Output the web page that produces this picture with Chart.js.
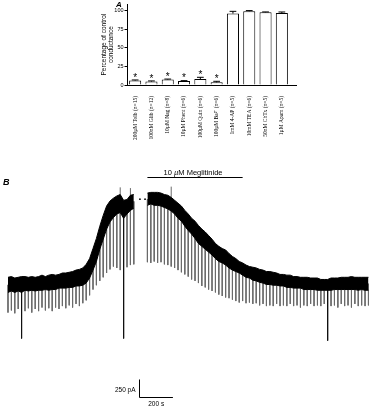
<!DOCTYPE html>
<html>
<head>
<meta charset="utf-8">
<script src="https://cdn.jsdelivr.net/npm/chart.js@4.4.1/dist/chart.umd.min.js"></script>
<style>
  html, body { margin: 0; padding: 0; background: #fff; }
  body { width: 371px; height: 409px; position: relative; overflow: hidden; font-family: 'Liberation Sans', Arial, sans-serif; }
  canvas { position: absolute; }
  #chart-a { left: 96px; top: 0; }
  #chart-b { left: 0; top: 160px; }
  .panel-label { position: absolute; font-weight: bold; font-style: italic; line-height: 1; color: #000; }
</style>
</head>
<body>
<canvas id="chart-a" width="214" height="155"></canvas>
<canvas id="chart-b" width="371" height="249"></canvas>
<div class="panel-label" style="left:116px;top:1px;font-size:8px">A</div>
<div class="panel-label" style="left:3px;top:178px;font-size:9px">B</div>
<script>
// ── Panel A data ───────────────────────────────────────
const categories = [
  '200µM Tolb (n=15)', '100nM Glib (n=12)', '10µM Nag (n=8)', '10µM Phent (n=6)',
  '100µM Quin (n=6)', '100µM Ba²⁺ (n=6)', '1mM 4-AP (n=5)', '10mM TEA (n=6)',
  '50nM ChTx (n=5)', '1µM Apam (n=5)',
];
const conductance = [6.0, 4.6, 7.3, 5.4, 8.1, 3.6, 96.5, 99.6, 98.2, 97.3];
const sem         = [0.8, 0.9, 0.7, 0.5, 2.3, 1.4, 3.0, 0.9, 0.5, 1.3];
const significant = [true, true, true, true, true, true, false, false, false, false];
const yTicks = [0, 25, 50, 75, 100];

// ── Panel B data (pA, one sample every 20 s) ───────────
const sampleStep = 20;
const traceTop = [
  180, 190, 170, 180, 190, 190, 180, 190, 180, 190,
  210, 190, 210, 220, 210, 220, 240, 240, 250, 260,
  280, 290, 310, 360, 440, 580, 720, 890, 1040, 1170,
  1240, 1280, 1310, 1330, 1250, 1260, 1320, 1330,
  null, null, null,
  1350, 1360, 1360, 1360, 1350, 1330, 1320, 1290, 1250,
  1210, 1170, 1110, 1060, 1000, 960, 900, 850, 810, 760,
  710, 650, 610, 580, 560, 510, 470, 440, 400, 380,
  350, 330, 320, 310, 290, 280, 260, 260, 250, 240,
  220, 220, 210, 210, 190, 190, 180, 180, 180, 170,
  170, 170, 150, 150, 150, 170, 170, 170, 180, 180,
  180, 190, 180, 180, 180, 180, 180,
];
const traceBottom = [
  -30, -10, -30, -10, -30, 0, -10, 0, -10, 0,
  0, 10, 0, 10, 10, 30, 30, 30, 40, 40,
  60, 60, 70, 100, 170, 280, 400, 570, 710, 850,
  950, 1010, 1060, 1080, 1000, 1060, 1110, 1140,
  null, null, null,
  1180, 1200, 1180, 1180, 1170, 1150, 1130, 1100, 1060,
  1000, 960, 890, 830, 780, 720, 650, 610, 570, 530,
  490, 440, 400, 380, 350, 310, 280, 260, 240, 210,
  180, 170, 140, 130, 110, 100, 80, 80, 70, 70,
  60, 60, 40, 40, 30, 30, 30, 10, 10, 10,
  10, 0, 0, 0, 0, 0, 10, 10, 10, 10,
  10, 10, 10, 0, 10, 0, 0,
];
const spikeDepth = [
  -310, -280, -320, -260, -670, -290, -250, -310, -260, -290,
  -240, -280, -250, -290, -240, -260, -220, -250, -210, -240,
  -190, -220, -180, -140, -70, 10, 70, 130, 180, 240,
  290, 330, 310, 280, -670, 320, 350, 360,
  null, null, null,
  390, 380, 400, 380, 390, 360, 350, 330, 310,
  280, 250, 220, 190, 150, 130, 100, 60, 40, 10,
  -10, -30, -60, -80, -100, -110, -130, -150, -170, -150,
  -180, -170, -190, -180, -210, -190, -220, -210, -220, -190,
  -220, -210, -220, -190, -220, -210, -240, -210, -220, -190,
  -220, -210, -220, -190, -700, -220, -210, -240, -190, -220,
  -210, -240, -190, -220, -210, -220, -210,
];
const upSpikeTimes = [660, 720, 960];
const upSpikePeaks = [1430, 1420, 1440];
const gapDotTimes = [776, 806];
const gapDotLevel = 1265;

const drugOn = 820;
const drugOff = 1380;
const drugBarLevel = 1570;
const drugLabel = ['10 ', 'µ', 'M Meglitinide'];

const scaleBarTime = 770;
const scaleBarLevel = -1490;
const scaleBarPA = 250;
const scaleBarS = 200;

Chart.defaults.font.family = "'Liberation Sans', Arial, sans-serif";
Chart.defaults.color = '#000';

// ── Panel A: bar chart ─────────────────────────────────
const errorBars = {
  id: 'errorBars',
  afterDatasetsDraw(chart) {
    const { ctx, chartArea, scales: { y } } = chart;
    const meta = chart.getDatasetMeta(0);
    ctx.save();
    ctx.strokeStyle = '#000';
    ctx.fillStyle = '#000';
    ctx.lineWidth = 1;
    ctx.font = "10px 'Liberation Sans', Arial, sans-serif";
    ctx.textAlign = 'center';
    ctx.textBaseline = 'alphabetic';
    meta.data.forEach((bar, i) => {
      const top = y.getPixelForValue(conductance[i] + sem[i]);
      const half = bar.width * 0.28;
      ctx.beginPath();
      ctx.moveTo(bar.x, bar.y);
      ctx.lineTo(bar.x, top);
      ctx.moveTo(bar.x - half, top);
      ctx.lineTo(bar.x + half, top);
      ctx.stroke();
      if (significant[i]) ctx.fillText('*', bar.x, top + 0.8);
    });
    // axis line runs a little past the last bar
    const yb = Math.round(chartArea.bottom + 0.5) - 0.5;
    ctx.beginPath();
    ctx.moveTo(chartArea.right - 1, yb);
    ctx.lineTo(chartArea.right + 7, yb);
    ctx.stroke();
    ctx.restore();
  },
};

new Chart(document.getElementById('chart-a'), {
  type: 'bar',
  data: {
    labels: categories,
    datasets: [{
      data: conductance,
      backgroundColor: '#fff',
      borderColor: '#000',
      borderWidth: 1,
      barPercentage: 0.74,
      categoryPercentage: 1,
    }],
  },
  options: {
    responsive: false,
    animation: false,
    devicePixelRatio: 1,
    layout: { autoPadding: false, padding: { top: 4, right: 20, left: 0, bottom: 0 } },
    plugins: { legend: { display: false }, tooltip: { enabled: false } },
    scales: {
      x: {
        afterFit: s => { s.height = 70; },
        grid: { display: false },
        border: { display: true, color: '#000', width: 1 },
        ticks: {
          minRotation: 90, maxRotation: 90, autoSkip: false, padding: 3,
          font: { family: "'Liberation Serif', 'Times New Roman', serif", size: 5.5 },
        },
      },
      y: {
        min: 0,
        max: 109,
        afterFit: s => { s.width = 31; },
        afterBuildTicks: s => { s.ticks = yTicks.map(v => ({ value: v })); },
        ticks: { font: { size: 5.5 }, padding: 1 },
        grid: { display: true, drawOnChartArea: false, drawTicks: true, tickLength: 2.5, color: '#000' },
        border: { display: true, color: '#000', width: 1 },
        title: {
          display: true,
          text: ['Percentage of control', 'conductance'],
          font: { size: 6.5 },
          padding: { top: 4, bottom: 0 },
        },
      },
    },
  },
  plugins: [errorBars],
});

// ── Panel B: current trace ─────────────────────────────
const times = traceTop.map((_, i) => i * sampleStep);
const points = arr => arr.map((v, i) => ({ x: times[i], y: v }));

const spikeSegments = [];
spikeDepth.forEach((v, i) => {
  if (v === null) return;
  const mid = (traceTop[i] + traceBottom[i]) / 2;
  spikeSegments.push({ x: times[i], y: mid }, { x: times[i], y: v }, { x: times[i], y: null });
});

const upSegments = [];
upSpikeTimes.forEach((t, i) => {
  const k = Math.round(t / sampleStep);
  upSegments.push({ x: t, y: (traceTop[k] + traceBottom[k]) / 2 }, { x: t, y: upSpikePeaks[i] }, { x: t, y: null });
});

const traceAnnotations = {
  id: 'traceAnnotations',
  afterDraw(chart) {
    const { ctx, scales: { x, y } } = chart;
    ctx.save();
    ctx.strokeStyle = '#000';
    ctx.fillStyle = '#000';
    ctx.lineWidth = 1;

    // drug application bar + label
    const x0 = x.getPixelForValue(drugOn);
    const x1 = x.getPixelForValue(drugOff);
    const yb = Math.round(y.getPixelForValue(drugBarLevel)) + 0.5;
    ctx.beginPath();
    ctx.moveTo(x0, yb);
    ctx.lineTo(x1, yb);
    ctx.stroke();

    const plain = "7.5px 'Liberation Sans', Arial, sans-serif";
    const italic = "italic 7.5px 'Liberation Sans', Arial, sans-serif";
    const fonts = [plain, italic, plain];
    const widths = drugLabel.map((s, i) => { ctx.font = fonts[i]; return ctx.measureText(s).width; });
    let lx = (x0 + x1) / 2 - 2 - widths.reduce((a, b) => a + b, 0) / 2;
    ctx.textBaseline = 'alphabetic';
    ctx.textAlign = 'left';
    drugLabel.forEach((s, i) => {
      ctx.font = fonts[i];
      ctx.fillText(s, lx, yb - 3);
      lx += widths[i];
    });

    // scale bar
    const small = "6.5px 'Liberation Sans', Arial, sans-serif";
    const sx = Math.round(x.getPixelForValue(scaleBarTime)) + 0.5;
    const sx2 = x.getPixelForValue(scaleBarTime + scaleBarS);
    const sy = Math.round(y.getPixelForValue(scaleBarLevel)) + 0.5;
    const sy2 = y.getPixelForValue(scaleBarLevel + scaleBarPA);
    ctx.beginPath();
    ctx.moveTo(sx, sy2);
    ctx.lineTo(sx, sy);
    ctx.lineTo(sx2, sy);
    ctx.stroke();

    ctx.font = small;
    ctx.textAlign = 'right';
    ctx.textBaseline = 'middle';
    ctx.fillText(scaleBarPA + ' pA', sx - 4, (sy + sy2) / 2 + 2);
    ctx.textAlign = 'center';
    ctx.textBaseline = 'top';
    ctx.fillText(scaleBarS + ' s', (sx + sx2) / 2, sy + 3);
    ctx.restore();
  },
};

new Chart(document.getElementById('chart-b'), {
  type: 'line',
  data: {
    datasets: [
      {
        data: points(traceTop),
        borderColor: '#000', borderWidth: 1,
        backgroundColor: '#000', fill: '+1',
      },
      {
        data: points(traceBottom),
        borderColor: '#000', borderWidth: 1,
      },
      {
        data: spikeSegments,
        borderColor: '#6a6a6a', borderWidth: 1,
        // the rare deep transients print darker
        segment: { borderColor: c => (c.p1.parsed.y < -500 ? '#111' : undefined) },
      },
      {
        data: upSegments,
        borderColor: '#6a6a6a', borderWidth: 1,
      },
      {
        data: gapDotTimes.map(t => ({ x: t, y: gapDotLevel })),
        showLine: false,
        pointRadius: 0.9,
        pointBackgroundColor: '#000',
        pointBorderWidth: 0,
      },
    ],
  },
  options: {
    responsive: false,
    animation: false,
    devicePixelRatio: 1,
    spanGaps: false,
    layout: { autoPadding: false, padding: 0 },
    plugins: { legend: { display: false }, tooltip: { enabled: false } },
    elements: { point: { radius: 0 }, line: { tension: 0 } },
    scales: {
      x: { type: 'linear', min: -47, max: 2135, display: false },
      y: { type: 'linear', min: -1650, max: 1810, display: false },
    },
  },
  plugins: [traceAnnotations],
});
</script>
</body>
</html>
